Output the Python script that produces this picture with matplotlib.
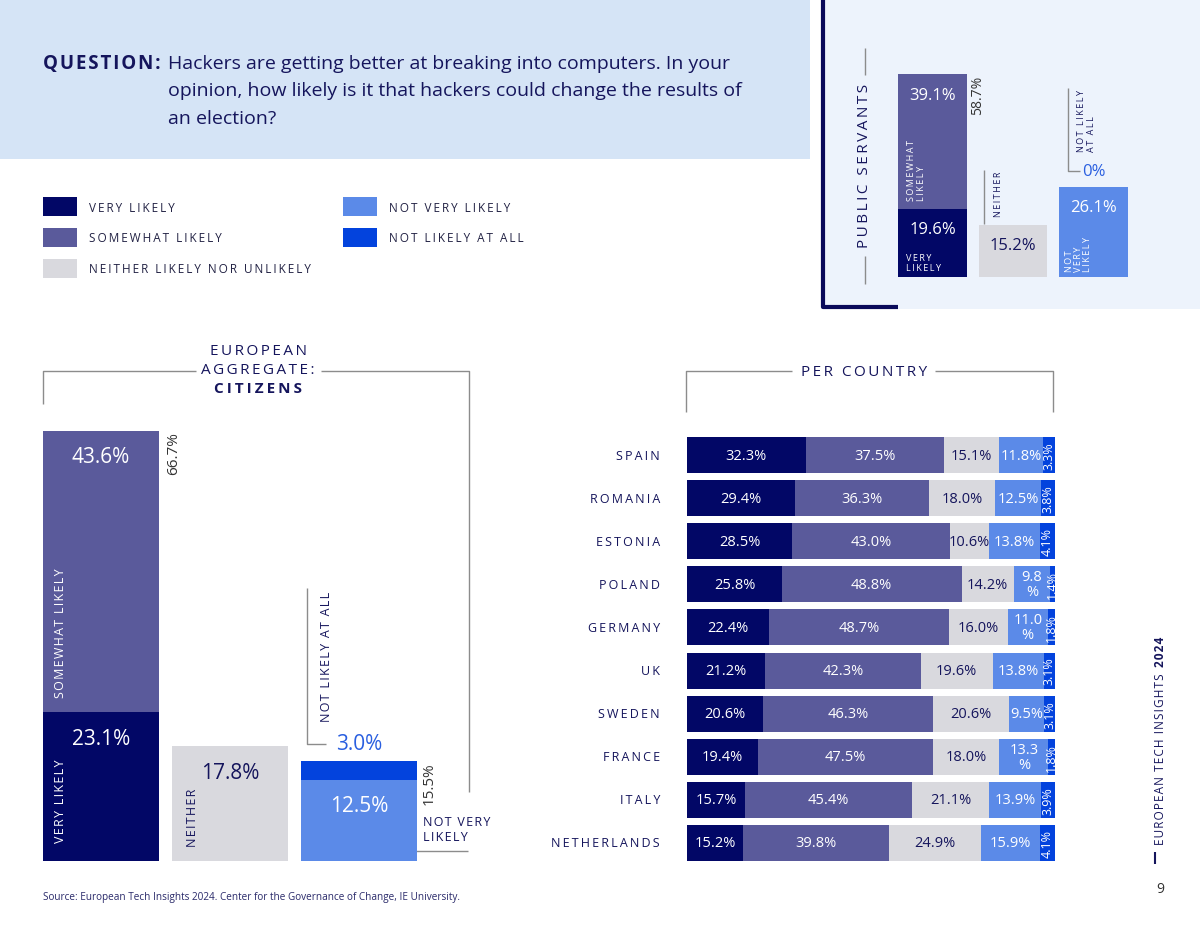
import matplotlib.pyplot as plt
from matplotlib.patches import Rectangle

plt.rcParams['font.family'] = ['Open Sans', 'DejaVu Sans']

# answer categories and their colours
categories = ['VERY LIKELY', 'SOMEWHAT LIKELY', 'NEITHER LIKELY NOR UNLIKELY',
              'NOT VERY LIKELY', 'NOT LIKELY AT ALL']
colors = ['#020766', '#5a5a9b', '#d9d9de', '#5b8ae8', '#0343dd']

# public servants (top right)
servants = [19.6, 39.1, 15.2, 26.1, 0.0]
# european aggregate, citizens
citizens = [23.1, 43.6, 17.8, 12.5, 3.0]

# per country
countries = ['SPAIN', 'ROMANIA', 'ESTONIA', 'POLAND', 'GERMANY', 'UK',
             'SWEDEN', 'FRANCE', 'ITALY', 'NETHERLANDS']
very_likely = [32.3, 29.4, 28.5, 25.8, 22.4, 21.2, 20.6, 19.4, 15.7, 15.2]
somewhat_likely = [37.5, 36.3, 43.0, 48.8, 48.7, 42.3, 46.3, 47.5, 45.4, 39.8]
neither = [15.1, 18.0, 10.6, 14.2, 16.0, 19.6, 20.6, 18.0, 21.1, 24.9]
not_very_likely = [11.8, 12.5, 13.8, 9.8, 11.0, 13.8, 9.5, 13.3, 13.9, 15.9]
not_likely_at_all = [3.3, 3.8, 4.1, 1.4, 1.8, 3.1, 3.1, 1.8, 3.9, 4.1]
wrapped_labels = ['POLAND', 'GERMANY', 'FRANCE']  # narrow segments where "%" drops a line

question = ['Hackers are getting better at breaking into computers. In your',
            'opinion, how likely is it that hackers could change the results of',
            'an election?']
source = 'Source: European Tech Insights 2024. Center for the Governance of Change, IE University.'

NAVY = '#15155c'
GREY = '#8c8c8c'
W, H = 1200, 937
THIN, HAIR = '\u2009', '\u200a'

fig = plt.figure(figsize=(12, 9.37), dpi=100)
bg = fig.add_axes([0, 0, 1, 1])
bg.set_xlim(0, W)
bg.set_ylim(H, 0)
bg.axis('off')


def sp(s, gap=THIN):
    # letter-spaced caps, like the report's typography
    return '\n'.join(gap.join(part) for part in s.split('\n'))


def px_axes(x0, y0, x1, y1):
    ax = fig.add_axes([x0 / W, 1 - y1 / H, (x1 - x0) / W, (y1 - y0) / H])
    ax.axis('off')
    return ax


def line(xs, ys, color=GREY, lw=1):
    bg.plot(xs, ys, color=color, lw=lw, solid_capstyle='butt')


def note(ax, txt, xy, off, **kw):
    ax.annotate(txt, xy=xy, xytext=off, textcoords='offset pixels', **kw)


# ---- header panels
bg.add_patch(Rectangle((0, 0), 810, 160, color='#d5e4f6', lw=0))
bg.add_patch(Rectangle((822, 0), 378, 310, color='#edf3fc', lw=0))
line([823, 823, 898], [0, 308, 308], color='#0a0a5a', lw=3)

bg.text(43, 64, sp('QUESTION:', HAIR), fontsize=13.5, fontweight='bold', color=NAVY, va='center')
for i, s in enumerate(question):
    bg.text(168, 64 + i * 27.5, s, fontsize=14, color=NAVY, va='center')

# ---- legend
legend_pos = [(43, 198), (43, 229), (43, 260), (343, 198), (343, 229)]
for (lx, ly), lab, c in zip(legend_pos, categories, colors):
    bg.add_patch(Rectangle((lx, ly), 34, 19, color=c, lw=0))
    bg.text(lx + 46, ly + 10, sp(lab), fontsize=8.5, color='#222244', va='center')

# ---- public servants
ps = px_axes(898, 60, 1128, 278)
ps.set_xlim(-0.43, 2.43)
ps.set_ylim(0, 218 / 3.45)
bw = 0.855
ps.bar(0, servants[0], bw, color=colors[0], lw=0)
ps.bar(0, servants[1], bw, bottom=servants[0], color=colors[1], lw=0)
ps.bar(1, servants[2], bw, color=colors[2], lw=0)
ps.bar(2, servants[3], bw, color=colors[3], lw=0)
ps.bar(2, servants[4], bw, bottom=servants[3], color=colors[4], lw=0)
top0 = servants[0] + servants[1]

note(ps, f'{servants[1]:.1f}%', (0, top0), (0, -21), ha='center', va='center', fontsize=12, color='white')
note(ps, f'{top0:.1f}%', (bw / 2, top0), (3, 0), ha='left', va='top', rotation=90, fontsize=10, color='#333333')
note(ps, sp('SOMEWHAT\nLIKELY'), (-bw / 2, servants[0]), (9, 9), ha='left', va='bottom', rotation=90,
     fontsize=6.5, color='white', linespacing=1.1)
note(ps, f'{servants[0]:.1f}%', (0, servants[0]), (0, -20), ha='center', va='center', fontsize=12, color='white')
note(ps, sp('VERY\nLIKELY'), (-bw / 2, 0), (8, 5), ha='left', va='bottom', fontsize=6.5, color='white',
     linespacing=1.1)
note(ps, f'{servants[2]:.1f}%', (1, servants[2]), (0, -20), ha='center', va='center', fontsize=12, color=NAVY)
note(ps, sp('NEITHER'), (1 - bw / 2, servants[2]), (15, 9), ha='left', va='bottom', rotation=90,
     fontsize=6.5, color=NAVY)
note(ps, f'{servants[4]:.0f}%', (2, servants[3]), (0, 16), ha='center', va='center', fontsize=12, color='#2a5fe0')
note(ps, f'{servants[3]:.1f}%', (2, servants[3]), (0, -20), ha='center', va='center', fontsize=12, color='white')
note(ps, sp('NOT\nVERY\nLIKELY'), (2 - bw / 2, 0), (6, 6), ha='left', va='bottom', rotation=90,
     fontsize=6.5, color='white', linespacing=1.0)
bg.text(1077, 152, sp('NOT LIKELY\nAT ALL'), rotation=90, ha='left', va='bottom', fontsize=6.5,
        color=NAVY, linespacing=1.1)
line([984, 984], [171, 225])
line([1068, 1068, 1080], [89, 172, 172])
bg.text(865, 166, sp('PUBLIC SERVANTS'), rotation=90, ha='center', va='center', fontsize=11, color=NAVY)
line([865, 865], [49, 76])
line([865, 865], [257, 285])

# ---- european aggregate: citizens
ag = px_axes(43, 420, 417, 862)
ag.set_xlim(-0.45, 2.45)
ag.set_ylim(0, 442 / 6.45)
aw = 0.9
ag.bar(0, citizens[0], aw, color=colors[0], lw=0)
ag.bar(0, citizens[1], aw, bottom=citizens[0], color=colors[1], lw=0)
ag.bar(1, citizens[2], aw, color=colors[2], lw=0)
ag.bar(2, citizens[3], aw, color=colors[3], lw=0)
ag.bar(2, citizens[4], aw, bottom=citizens[3], color=colors[4], lw=0)
atop = citizens[0] + citizens[1]
ntop = citizens[3] + citizens[4]

note(ag, f'{citizens[1]:.1f}%', (0, atop), (0, -26), ha='center', va='center', fontsize=15, color='white')
note(ag, f'{atop:.1f}%', (aw / 2, atop), (7, 0), ha='left', va='top', rotation=90, fontsize=11, color='#333333')
note(ag, sp('SOMEWHAT LIKELY', HAIR), (-aw / 2, citizens[0]), (11, 15), ha='left', va='bottom', rotation=90,
     fontsize=9, color='white')
note(ag, f'{citizens[0]:.1f}%', (0, citizens[0]), (0, -26), ha='center', va='center', fontsize=15, color='white')
note(ag, sp('VERY LIKELY', HAIR), (-aw / 2, 0), (11, 19), ha='left', va='bottom', rotation=90, fontsize=9,
     color='white')
note(ag, f'{citizens[2]:.1f}%', (1, citizens[2]), (0, -26), ha='center', va='center', fontsize=15, color=NAVY)
note(ag, sp('NEITHER', HAIR), (1 - aw / 2, 0), (14, 15), ha='left', va='bottom', rotation=90, fontsize=9,
     color=NAVY)
note(ag, f'{citizens[3]:.1f}%', (2, citizens[3]), (0, -25), ha='center', va='center', fontsize=15, color='white')
note(ag, f'{citizens[4]:.1f}%', (2, ntop), (0, 18), ha='center', va='center', fontsize=15, color='#2a5fe0')
note(ag, f'{ntop:.1f}%', (2 + aw / 2, ntop), (5, 0), ha='left', va='top', rotation=90, fontsize=11, color='#333333')
note(ag, sp('NOT VERY\nLIKELY', HAIR), (2 + aw / 2, 0), (6, 32), ha='left', va='center', fontsize=9,
     color=NAVY, linespacing=1.2)

bg.text(327, 722, sp('NOT LIKELY AT ALL', HAIR), rotation=90, ha='center', va='bottom', fontsize=9, color=NAVY)
line([307, 307, 326], [589, 745, 745])
line([416, 468], [852, 852])
bg.text(258, 352, sp('EUROPEAN'), ha='center', va='center', fontsize=11, color=NAVY)
bg.text(258, 371, sp('AGGREGATE:'), ha='center', va='center', fontsize=11, color=NAVY)
bg.text(258, 389, sp('CITIZENS'), ha='center', va='center', fontsize=11, color=NAVY, fontweight='bold')
line([43, 43, 196], [405, 372, 372])
line([321, 469, 469], [372, 372, 793])

# ---- per country
pc = px_axes(687, 434.5, 1055, 865.5)
pc.set_xlim(0, 100)
pc.set_ylim(len(countries) - 0.5, -0.5)
series = [very_likely, somewhat_likely, neither, not_very_likely, not_likely_at_all]
rows = range(len(countries))
left = [0.0] * len(countries)
for k, vals in enumerate(series):
    pc.barh(rows, vals, height=0.835, left=left, color=colors[k], lw=0)
    for i, v in enumerate(vals):
        cx = left[i] + v / 2
        if k == 4:
            pc.text(cx, i, f'{v:.1f}%', ha='center', va='center', rotation=90, fontsize=9, color='white')
        else:
            txt = f'{v:.1f}%'
            if k == 3 and countries[i] in wrapped_labels:
                txt = f'{v:.1f}\n%'
            pc.text(cx, i, txt, ha='center', va='center', fontsize=10.5, linespacing=1.0,
                    color=NAVY if k == 2 else 'white')
    left = [a + b for a, b in zip(left, vals)]
for i, c in enumerate(countries):
    note(pc, sp(c), (0, i), (-27, 0), ha='right', va='center', fontsize=9, color=NAVY)

bg.text(864, 373, sp('PER COUNTRY'), ha='center', va='center', fontsize=11, color=NAVY)
line([686, 686, 792], [413, 372, 372])
line([935, 1053, 1053], [372, 372, 413])

# ---- footer
bg.text(43, 898, source, fontsize=7.2, color='#2a2a6a', va='center')
t1 = bg.text(1160, 845, sp('EUROPEAN TECH INSIGHTS', HAIR), rotation=90, ha='center', va='bottom',
             fontsize=8.5, color=NAVY)
bg.annotate(sp('2024', HAIR), xy=(0.5, 1), xycoords=t1, xytext=(0, 6), textcoords='offset pixels',
            rotation=90, ha='center', va='bottom', fontsize=8.5, fontweight='bold', color=NAVY)
line([1155, 1155], [853, 865], color=NAVY, lw=1.5)
bg.text(1160, 890, '9', ha='center', va='center', fontsize=10, color='#333333')

fig.savefig('out.png', dpi=100)
